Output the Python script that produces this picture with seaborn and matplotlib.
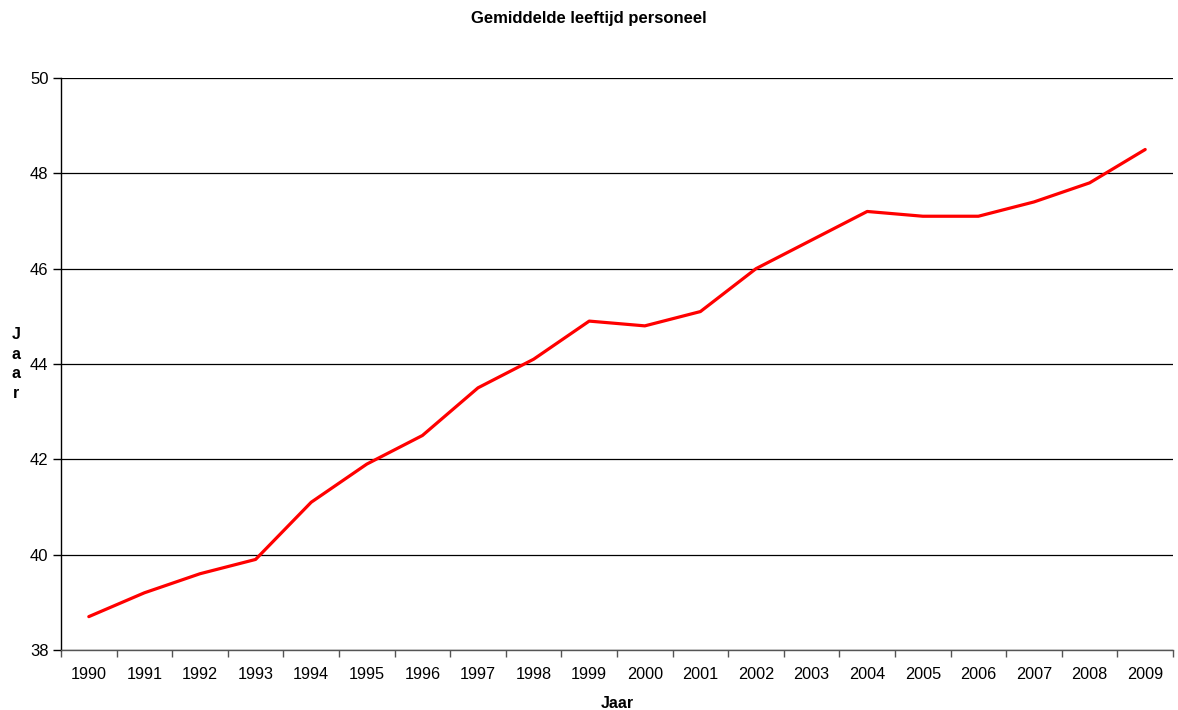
import matplotlib
matplotlib.use("Agg")
import matplotlib.pyplot as plt
import seaborn as sns
import pandas as pd
from matplotlib.ticker import FixedLocator

years = ["1990", "1991", "1992", "1993", "1994", "1995", "1996", "1997", "1998", "1999",
         "2000", "2001", "2002", "2003", "2004", "2005", "2006", "2007", "2008", "2009"]
ages = [38.7, 39.2, 39.6, 39.9, 41.1, 41.9, 42.5, 43.5, 44.1, 44.9,
        44.8, 45.1, 46.0, 46.6, 47.2, 47.1, 47.1, 47.4, 47.8, 48.5]
y_ticks = [38, 40, 42, 44, 46, 48, 50]

sns.set_theme(style="white")
plt.rcParams['font.family'] = ['Liberation Sans', 'DejaVu Sans']
plt.rcParams['text.color'] = 'black'
plt.rcParams['axes.labelcolor'] = 'black'
plt.rcParams['xtick.color'] = 'black'
plt.rcParams['ytick.color'] = 'black'

df = pd.DataFrame({"Jaar": years, "Leeftijd": ages})

fig = plt.figure(figsize=(11.78, 7.10), dpi=100)
ax = fig.add_axes([61/1178, 1-650/710, (1173-61)/1178, (650-78)/710])

sns.lineplot(data=df, x="Jaar", y="Leeftijd", sort=False, color="#ff0000",
             linewidth=2.3, ax=ax, zorder=3)

ax.set_xlim(-0.5, len(years) - 0.5)
ax.set_ylim(38, 50)
ax.set_yticks(y_ticks)
ax.set_yticklabels([str(v) for v in y_ticks], fontsize=12)
ax.yaxis.grid(True, color="black", linewidth=0.9)
ax.set_axisbelow(True)

ax.set_xticks(range(len(years)))
ax.set_xticklabels(years, fontsize=11.7)
ax.xaxis.set_minor_locator(FixedLocator([i - 0.5 for i in range(len(years) + 1)]))
ax.tick_params(axis="x", which="major", length=0, pad=12, labelcolor="black")
ax.tick_params(axis="x", which="minor", length=5, width=1, color="#555555", bottom=True)
ax.tick_params(axis="y", which="major", length=6, width=1, color="black", left=True,
               pad=3, labelcolor="black")

for s in ["top", "right"]:
    ax.spines[s].set_visible(False)
ax.spines["left"].set_color("black")
ax.spines["left"].set_linewidth(1)
ax.spines["bottom"].set_color("#555555")
ax.spines["bottom"].set_linewidth(1)

ax.set_xlabel("Jaar", fontsize=11.5, fontweight="bold", labelpad=10, color="black")
ax.set_ylabel("")
fig.text(16/1178, 1-364/710, "J\na\na\nr", fontsize=11.5, fontweight="bold",
         ha="center", va="center", linespacing=1.4, color="black")

fig.text(589/1178, 1-19/710, "Gemiddelde leeftijd personeel", fontsize=12,
         fontweight="bold", ha="center", va="center", color="black")

fig.savefig("out.png", dpi=100)
